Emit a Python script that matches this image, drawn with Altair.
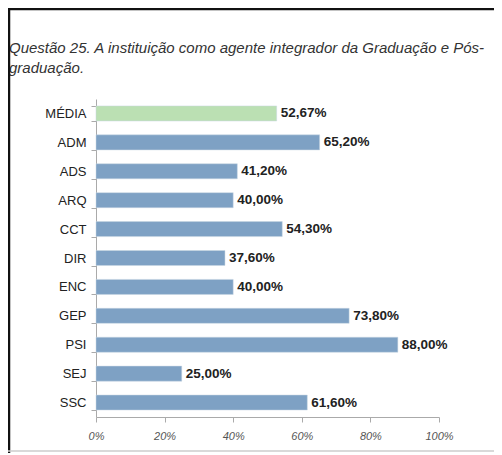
import altair as alt
import pandas as pd

categories = ["MÉDIA", "ADM", "ADS", "ARQ", "CCT", "DIR", "ENC", "GEP", "PSI", "SEJ", "SSC"]
values = [52.67, 65.20, 41.20, 40.00, 54.30, 37.60, 40.00, 73.80, 88.00, 25.00, 61.60]
groups = ["media"] + ["curso"] * 10
x_ticks = [0, 20, 40, 60, 80, 100]
title_lines = ["Questão 25. A instituição como agente integrador da Graduação e Pós-", "graduação."]

df = pd.DataFrame({
    "cat": categories,
    "val": values,
    "grp": groups,
    "lbl": [f"{v:.2f}".replace(".", ",") + "%" for v in values],
})
title_df = pd.DataFrame({"t": ["\n".join(title_lines)]})

FONT = "Liberation Sans"

y_enc = alt.Y("cat:N", sort=categories, title=None,
              scale=alt.Scale(paddingInner=0.48, paddingOuter=0.24),
              axis=alt.Axis(labelFontSize=13, labelColor="#222", labelFont=FONT,
                            tickSize=5, tickColor="#aaa", domainColor="#aaa",
                            labelPadding=5, tickBand="extent"))
x_enc = alt.X("val:Q", title=None,
              scale=alt.Scale(domain=[0, 100], nice=False),
              axis=alt.Axis(values=x_ticks, labelExpr="datum.value + '%'",
                            labelFontSize=11, labelFontStyle="italic", labelColor="#555",
                            labelFont=FONT, tickSize=5, tickColor="#aaa", labelFlush=False,
                            domainColor="#aaa", grid=False, labelPadding=8))

bars = alt.Chart(df).mark_bar(stroke="#c9d6e3", strokeWidth=0.5).encode(
    x=x_enc, y=y_enc,
    color=alt.Color("grp:N", scale=alt.Scale(domain=["media", "curso"],
                                             range=["#bbe0b3", "#7ea1c4"]), legend=None),
)

labels = alt.Chart(df).mark_text(align="left", baseline="middle", dx=4, fontSize=13.5,
                                 fontWeight="bold", color="#222", font=FONT).encode(
    x="val:Q", y=alt.Y("cat:N", sort=categories), text="lbl:N")

title = alt.Chart(title_df).mark_text(align="left", baseline="alphabetic", fontSize=15,
                                      fontStyle="italic", color="#333", font=FONT,
                                      lineBreak="\n", lineHeight=20).encode(
    x=alt.value(-87), y=alt.value(-46), text="t:N")

frame_left = alt.Chart(title_df).mark_rule(color="#111", strokeWidth=2.5).encode(
    x=alt.value(-87), y=alt.value(-91), y2=alt.value(360))
frame_top = alt.Chart(title_df).mark_rule(color="#111", strokeWidth=2.5).encode(
    y=alt.value(-90), x=alt.value(-88), x2=alt.value(420))
frame_bottom = alt.Chart(title_df).mark_rule(color="#ccc", strokeWidth=1.5).encode(
    y=alt.value(352), x=alt.value(-88), x2=alt.value(420))

chart = alt.layer(bars, labels, title, frame_left, frame_top, frame_bottom).properties(
    width=343, height=318,
    autosize=alt.AutoSizeParams(type="none"),
    padding={"left": 88, "top": 91, "right": 55, "bottom": 36},
).configure_view(stroke=None)

chart.save("out.html", embed_options={"renderer": "svg", "actions": False})
